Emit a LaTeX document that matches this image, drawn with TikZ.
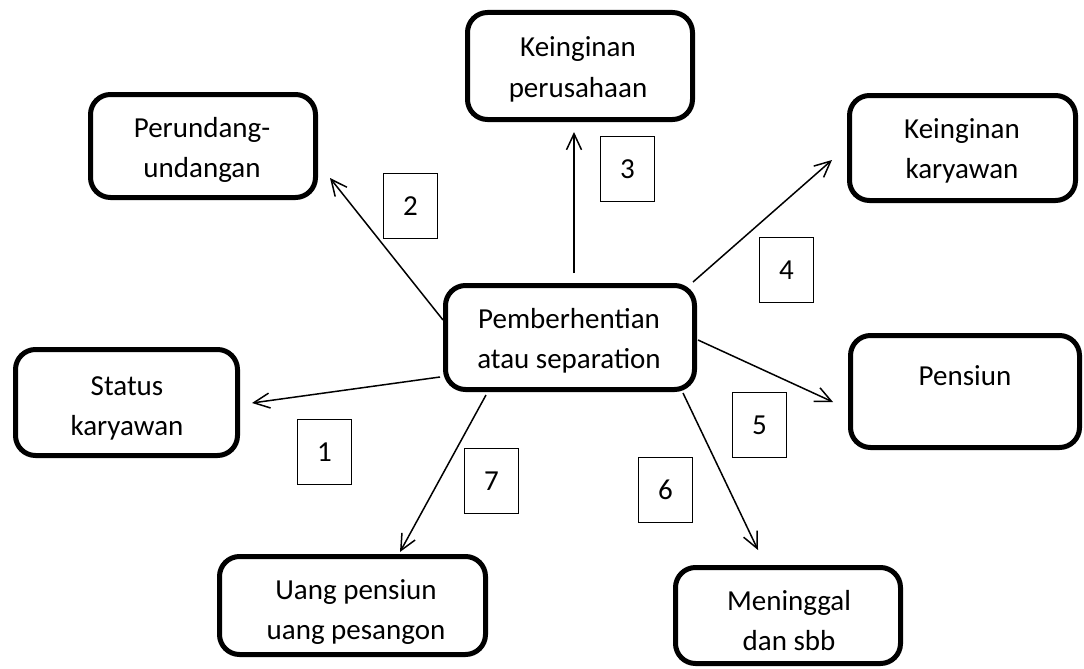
\documentclass[tikz,border=0pt]{standalone}
\usepackage{fontspec}
\setmainfont{Carlito}
\usetikzlibrary{arrows.meta}
\tikzset{
  x=1pt, y=-1pt,
  bigbox/.style={draw, line width=5pt, rounded corners=20pt, inner sep=0pt},
  numbox/.style={draw, line width=1.3pt, inner sep=0pt, minimum width=54pt, minimum height=65pt,
    font=\fontsize{29}{40}\selectfont},
  lbl/.style={align=center, inner sep=0pt, anchor=base, font=\fontsize{29}{40}\selectfont},
  arr/.style={line width=1.5pt, -{Straight Barb[length=16pt,width=15pt,line width=1.5pt]}},
}
\begin{document}
\begin{tikzpicture}
\useasboundingbox (0,0) rectangle (1084,669);
% big boxes
\node[bigbox, minimum width=249pt, minimum height=104pt] (cen) at (570,337.5) {};
\node[bigbox, minimum width=225pt, minimum height=107pt] (kp) at (580,66) {};
\node[bigbox, minimum width=225pt, minimum height=103pt] (pu) at (203,146) {};
\node[bigbox, minimum width=226pt, minimum height=105pt] (kk) at (962.5,148) {};
\node[bigbox, minimum width=222pt, minimum height=106pt] (sk) at (126.5,402.5) {};
\node[bigbox, minimum width=229pt, minimum height=112pt] (pe) at (965,391.5) {};
\node[bigbox, minimum width=266pt, minimum height=98pt] (up) at (352.5,605.5) {};
\node[bigbox, minimum width=225pt, minimum height=96pt] (mn) at (788,615.5) {};
% texts (base anchor = baseline of last line)
\node[lbl] (cen-t) at (569,368) {Pemberhentian\\atau separation};
\node[lbl] (kp-t) at (578,97) {Keinginan\\perusahaan};
\node[lbl] (pu-t) at (202,177) {Perundang-\\undangan};
\node[lbl] (kk-t) at (962,178) {Keinginan\\karyawan};
\node[lbl] (sk-t) at (127,435) {Status\\karyawan};
\node[lbl] (pe-t) at (965,385) {Pensiun};
\node[lbl] (up-t) at (356,639) {Uang pensiun\\uang pesangon};
\node[lbl] (mn-t) at (789,650) {Meninggal\\dan sbb};
% number boxes
\node[numbox] (n1) at (324.5,452) {1};
\node[numbox] (n2) at (410.5,206) {2};
\node[numbox] (n3) at (627.5,169) {3};
\node[numbox] (n4) at (786.5,270) {4};
\node[numbox] (n5) at (759.5,425) {5};
\node[numbox] (n6) at (665.5,490) {6};
\node[numbox] (n7) at (491.5,481) {7};
% arrow end points
\coordinate (s1) at (440,377); \coordinate (t1) at (252,403);
\coordinate (s2) at (443,320); \coordinate (t2) at (330,178);
\coordinate (s3) at (574,273); \coordinate (t3) at (574,132);
\coordinate (s4) at (693,282); \coordinate (t4) at (832,160);
\coordinate (s5) at (698,340); \coordinate (t5) at (833,402);
\coordinate (s6) at (683,393); \coordinate (t6) at (758,550);
\coordinate (s7) at (486,395); \coordinate (t7) at (400,552);
\draw[arr] (s1) -- (t1);
\draw[arr] (s2) -- (t2);
\draw[arr] (s3) -- (t3);
\draw[arr] (s4) -- (t4);
\draw[arr] (s5) -- (t5);
\draw[arr] (s6) -- (t6);
\draw[arr] (s7) -- (t7);
\end{tikzpicture}
\end{document}
